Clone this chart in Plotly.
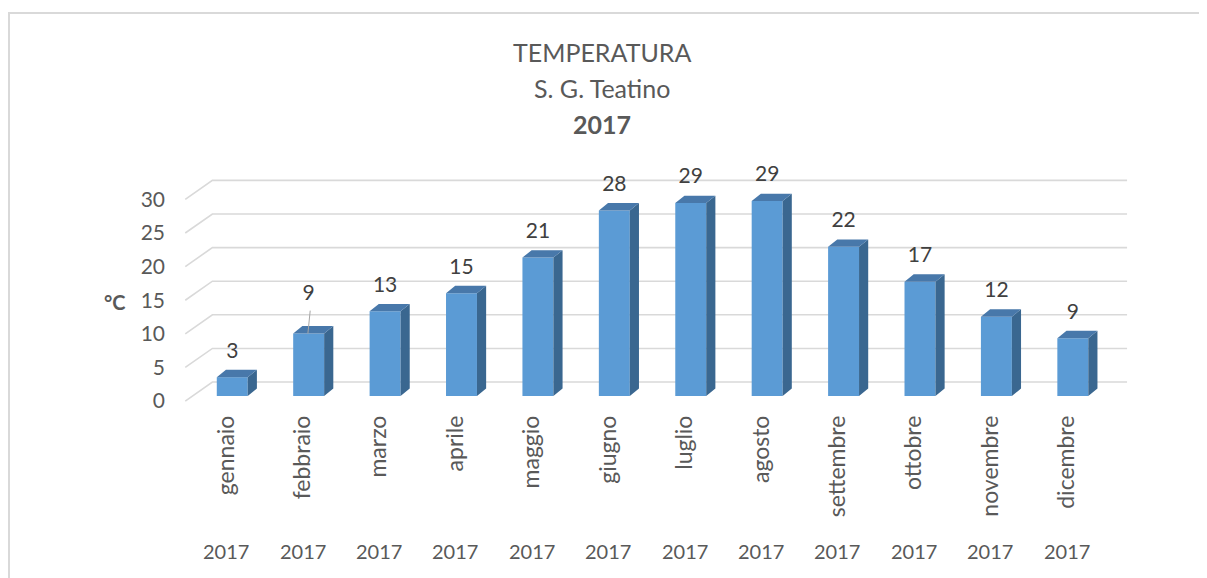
import plotly.graph_objects as go

months = ["gennaio", "febbraio", "marzo", "aprile", "maggio", "giugno",
          "luglio", "agosto", "settembre", "ottobre", "novembre", "dicembre"]
years = ["2017"] * 12
temps = [2.8, 9.3, 12.6, 15.3, 20.6, 27.6, 28.7, 29.0, 22.2, 17.0, 11.8, 8.6]
y_ticks = [0, 5, 10, 15, 20, 25, 30]

FONT = "Lato"
GREY = "#595959"

# the page puts the figure 8px in from the corner
OFF = 8
# plot area in page pixels: left 178, right 1137, top 150, bottom 410
L, T = 178 - OFF, 150 - OFF
R = 1207 - (1137 - OFF)
B = 578 - (410 - OFF)
W, H = 1207 - L - R, 578 - T - B


def px(x):
    return (x - OFF - L) / W


def py(y):
    return (578 - B - (y - OFF)) / H


x = list(range(len(months)))
bw = 0.405          # front face width
dx, dy = 0.12, 1.1  # depth of the 3d effect
front_shift = -0.75  # front edge of the floor, below bar base
back_shift = 2.08    # back wall

fig = go.Figure()

# front faces
fig.add_trace(go.Bar(x=x, y=temps, width=bw, marker=dict(color="#5B9BD5", line=dict(width=0)),
                     hoverinfo="skip"))

# side and top faces
side_x, side_y, top_x, top_y = [], [], [], []
for i, v in zip(x, temps):
    r = i + bw / 2
    l = i - bw / 2
    side_x += [r, r + dx, r + dx, r, r, None]
    side_y += [0, dy, v + dy, v, 0, None]
    top_x += [l, r, r + dx, l + dx, l, None]
    top_y += [v, v, v + dy, v + dy, v, None]

fig.add_trace(go.Scatter(x=side_x, y=side_y, mode="lines", fill="toself", fillcolor="#3A6790",
                         line=dict(width=0, color="#3A6790"), hoverinfo="skip"))
fig.add_trace(go.Scatter(x=top_x, y=top_y, mode="lines", fill="toself", fillcolor="#4878AA",
                         line=dict(width=0, color="#4878AA"), hoverinfo="skip"))

# data labels
lift = [3.7] * len(temps)
lift[1] = 5.8
fig.add_trace(go.Scatter(x=x, y=[v + l for v, l in zip(temps, lift)], mode="text",
                         text=[str(round(v)) for v in temps],
                         textfont=dict(family=FONT, size=21, color="#404040"),
                         cliponaxis=False, hoverinfo="skip"))

shapes = []
# 3d gridlines: diagonal on the floor side then along the back wall
for t in y_ticks:
    shapes.append(dict(type="path", xref="x", yref="y", layer="below",
                       path=f"M -0.615,{t + front_shift} L -0.26,{t + back_shift} L 11.71,{t + back_shift}",
                       line=dict(color="#D9D9D9", width=1.6)))
# leader line for febbraio label
shapes.append(dict(type="line", xref="x", yref="y", x0=1.02, y0=temps[1] + 3.4, x1=0.99, y1=temps[1],
                   line=dict(color="#A6A6A6", width=1)))
# chart border
shapes.append(dict(type="rect", xref="paper", yref="paper", x0=px(9), x1=px(1225), y0=py(13), y1=py(600),
                   line=dict(color="#D9D9D9", width=2), layer="below"))

annotations = []
for txt, yy in [("TEMPERATURA", 52), ("S. G. Teatino", 88), ("<b>2017</b>", 124)]:
    annotations.append(dict(text=txt, xref="paper", yref="paper", x=px(602), y=py(yy),
                            xanchor="center", yanchor="middle", showarrow=False,
                            font=dict(family=FONT, size=25, color=GREY)))
annotations.append(dict(text="<b>°C</b>", xref="paper", yref="paper", x=px(115), y=py(302),
                        xanchor="center", yanchor="middle", showarrow=False,
                        font=dict(family=FONT, size=20, color=GREY)))
for i, yr in zip(x, years):
    annotations.append(dict(text=yr, xref="x", yref="paper", x=i - 0.08, y=py(551),
                            xanchor="center", yanchor="middle", showarrow=False,
                            font=dict(family=FONT, size=20, color=GREY)))

fig.update_layout(
    width=1207, height=578,
    margin=dict(l=L, r=R, t=T, b=B),
    paper_bgcolor="white", plot_bgcolor="white",
    showlegend=False,
    font=dict(family=FONT, color=GREY),
    shapes=shapes,
    annotations=annotations,
    xaxis=dict(range=[-0.71, 11.84], tickvals=[i - 0.08 for i in x], ticktext=months,
               tickangle=-90, tickfont=dict(size=23, color=GREY), showgrid=False,
               zeroline=False, showline=False, ticks=""),
    yaxis=dict(range=[-2.08, 36.6], tickvals=[t + front_shift for t in y_ticks],
               ticktext=[str(t) for t in y_ticks], tickfont=dict(size=21, color=GREY),
               showgrid=False, zeroline=False, showline=False, ticks="", ticklabelstandoff=12),
)

fig.write_html("out.html")
